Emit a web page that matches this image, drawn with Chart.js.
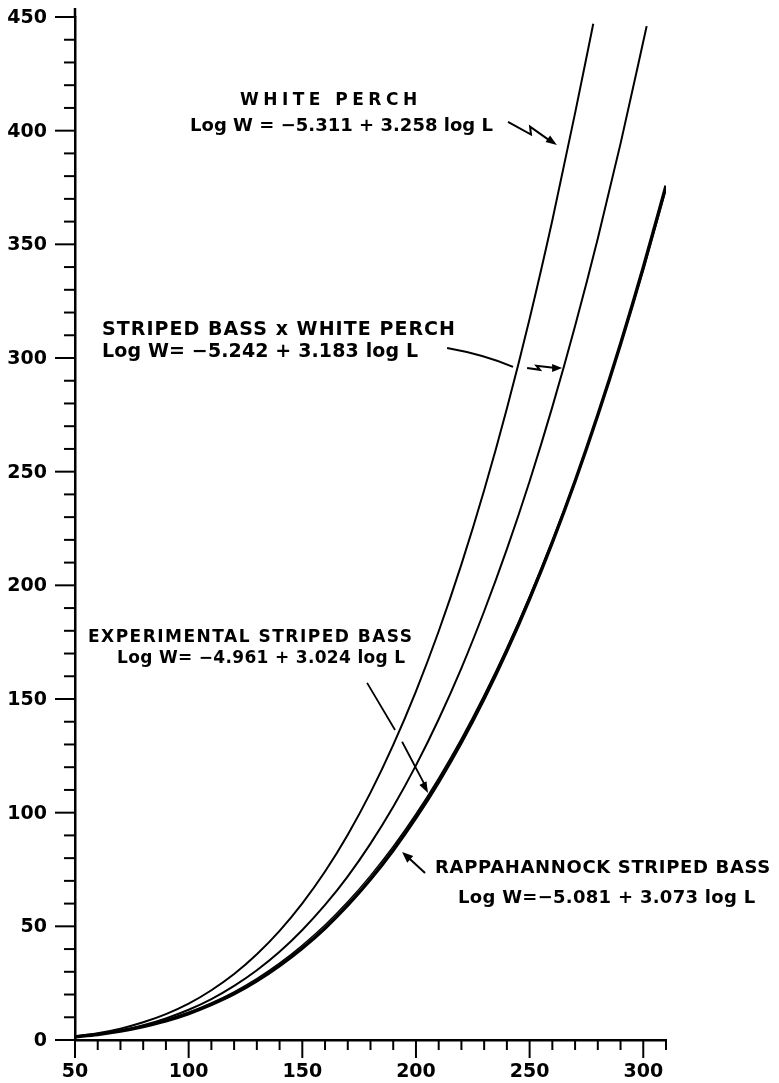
<!DOCTYPE html>
<html>
<head>
<meta charset="utf-8">
<script src="https://cdn.jsdelivr.net/npm/chart.js@4"></script>
<style>
  html, body { margin: 0; padding: 0; background: #fff; }
  canvas { display: block; }
</style>
</head>
<body>
<canvas id="chart" width="779" height="1083"></canvas>
<script>
// lengths (mm) and weights (g)
const lenWhitePerch = [50,60,70,80,90,100,110,120,130,140,150,160,170,180,190,200,210,220,230,240,250,260,270,278];
const wtWhitePerch  = [1.7,3.0,5.0,7.8,11.4,16.0,21.9,29.0,37.7,48.0,60.1,74.1,90.3,108.8,129.8,153.4,179.8,209.2,241.8,277.8,317.3,360.6,407.7,447];

const lenHybrid = [50,60,70,80,90,100,110,120,130,140,150,160,170,180,190,200,210,220,230,240,250,260,270,280,290,300,301.5];
const wtHybrid  = [1.5,2.6,4.3,6.5,9.5,13.3,18.0,23.8,30.7,38.8,48.4,59.4,72.0,86.4,102.6,120.8,141.1,163.6,188.6,215.9,245.8,278.5,314.1,352.6,394.3,439.2,446];

const lenStriped = [50,60,70,80,90,100,110,120,130,140,150,160,170,180,190,200,210,220,230,240,250,260,270,280,290,300,310];
const wtExperimental  = [1.5,2.6,4.2,6.2,8.9,12.2,16.3,21.2,27.0,33.8,41.7,50.6,60.8,72.3,85.1,99.4,115.2,132.6,151.7,172.5,195.2,219.8,246.3,274.9,305.7,338.7,374.1];
const wtRappahannock  = [1.4,2.4,3.9,5.9,8.4,11.6,15.6,20.3,26.0,32.7,40.4,49.2,59.3,70.7,83.5,97.8,113.6,131.0,150.2,171.2,194.1,218.9,245.8,274.9,306.2,339.8,375.8];

const yTickLabels = [0, 50, 100, 150, 200, 250, 300, 350, 400, 450];

const seriesNames = ["WHITE PERCH", "STRIPED BASS x WHITE PERCH", "EXPERIMENTAL STRIPED BASS", "RAPPAHANNOCK STRIPED BASS"];
const equations = [
  "Log W = \u22125.311 + 3.258 log L",
  "Log W= \u22125.242 + 3.183 log L",
  "Log W= \u22124.961 + 3.024 log L",
  "Log W=\u22125.081 + 3.073 log L"
];

const FONT = '"DejaVu Sans", sans-serif';

function pts(xs, ys) {
  return xs.map((x, i) => ({ x: x, y: ys[i] }));
}

// text stretched between two x positions
function spacedText(ctx, str, x0, x1, base, size) {
  ctx.font = "bold " + size + "px " + FONT;
  ctx.letterSpacing = "0px";
  const w = ctx.measureText(str).width;
  const sp = str.length > 1 ? (x1 - x0 - w) / (str.length - 1) : 0;
  ctx.letterSpacing = sp.toFixed(2) + "px";
  ctx.textAlign = "left";
  ctx.textBaseline = "alphabetic";
  ctx.fillText(str, x0, base);
  ctx.letterSpacing = "0px";
}

function arrowHead(ctx, fx, fy, tx, ty, len, wid) {
  const a = Math.atan2(ty - fy, tx - fx);
  ctx.beginPath();
  ctx.moveTo(tx, ty);
  ctx.lineTo(tx - len * Math.cos(a) + wid * Math.sin(a), ty - len * Math.sin(a) - wid * Math.cos(a));
  ctx.lineTo(tx - len * Math.cos(a) - wid * Math.sin(a), ty - len * Math.sin(a) + wid * Math.cos(a));
  ctx.closePath();
  ctx.fill();
}

const ticksPlugin = {
  id: "ticksPlugin",
  afterDraw(chart) {
    const { ctx, scales: { x, y } } = chart;
    ctx.save();
    ctx.strokeStyle = "#000";
    ctx.fillStyle = "#000";
    ctx.lineWidth = 2;
    const x0 = x.getPixelForValue(50);
    for (let v = 0; v <= 450; v += 10) {
      const len = v % 50 === 0 ? 20 : 11;
      const py = y.getPixelForValue(v);
      ctx.beginPath(); ctx.moveTo(x0 - len, py); ctx.lineTo(x0, py); ctx.stroke();
    }
    // y labels
    ctx.font = "bold 19px " + FONT;
    ctx.textAlign = "right";
    ctx.textBaseline = "middle";
    yTickLabels.forEach(v => ctx.fillText(String(v), x0 - 28, y.getPixelForValue(v) + 1));
    // axis runs a little past the top tick
    ctx.lineWidth = 2.5;
    ctx.beginPath(); ctx.moveTo(x0, y.getPixelForValue(450)); ctx.lineTo(x0, y.getPixelForValue(450) - 9); ctx.stroke();
    ctx.lineWidth = 2;
    const y0 = y.getPixelForValue(0);
    for (let v = 50; v <= 310; v += 10) {
      const len = v % 50 === 0 ? 18 : 10;
      const px = x.getPixelForValue(v);
      ctx.beginPath(); ctx.moveTo(px, y0); ctx.lineTo(px, y0 + len); ctx.stroke();
    }
    ctx.restore();
  }
};

const notesPlugin = {
  id: "notesPlugin",
  afterDatasetsDraw(chart) {
    const { ctx, scales: { x, y } } = chart;
    const X = v => x.getPixelForValue(v);
    const Y = v => y.getPixelForValue(v);
    ctx.save();
    ctx.fillStyle = "#000";
    ctx.strokeStyle = "#000";

    // white perch
    spacedText(ctx, seriesNames[0], X(122.6), X(200.5), Y(411.3), 17);
    spacedText(ctx, equations[0], X(100.6), X(233.9), Y(399.9), 18);
    ctx.lineWidth = 2;
    ctx.beginPath();
    ctx.moveTo(X(240.5), Y(403.9));
    ctx.lineTo(X(250.6), Y(398.3));
    ctx.lineTo(X(250.2), Y(401.8));
    ctx.lineTo(X(259.5), Y(395.2));
    ctx.stroke();
    arrowHead(ctx, X(250.2), Y(401.8), X(262.0), Y(393.7), 11, 4);

    // hybrid
    spacedText(ctx, seriesNames[1], X(61.9), X(217.2), Y(310.2), 19);
    spacedText(ctx, equations[1], X(61.9), X(200.9), Y(300.5), 19);
    ctx.beginPath();
    ctx.moveTo(X(213.7), Y(304.4));
    ctx.quadraticCurveTo(X(230), Y(301.5), X(242.7), Y(296.1));
    ctx.stroke();
    ctx.beginPath();
    ctx.moveTo(X(248.9), Y(295.6));
    ctx.lineTo(X(254.5), Y(294.8));
    ctx.lineTo(X(253.0), Y(296.6));
    ctx.lineTo(X(261.5), Y(295.6));
    ctx.stroke();
    arrowHead(ctx, X(253.0), Y(295.6), X(264.3), Y(295.6), 10, 4);

    // experimental
    spacedText(ctx, seriesNames[2], X(55.7), X(198.3), Y(175.1), 17);
    spacedText(ctx, equations[2], X(68.5), X(195.2), Y(165.9), 17);
    ctx.lineWidth = 1.8;
    ctx.beginPath();
    ctx.moveTo(X(178.5), Y(157.1));
    ctx.lineTo(X(190.8), Y(136.4));
    ctx.moveTo(X(193.9), Y(131.2));
    ctx.lineTo(X(204.0), Y(112.0));
    ctx.stroke();
    arrowHead(ctx, X(190.8), Y(136.4), X(205.3), Y(108.7), 11, 4);

    // rappahannock
    spacedText(ctx, seriesNames[3], X(208.4), X(355.8), Y(73.5), 18);
    spacedText(ctx, equations[3], X(218.5), X(349.2), Y(60.3), 18);
    ctx.lineWidth = 2;
    ctx.beginPath();
    ctx.moveTo(X(204.0), Y(73.5));
    ctx.lineTo(X(196.0), Y(80.8));
    ctx.stroke();
    arrowHead(ctx, X(204.0), Y(73.5), X(193.9), Y(82.7), 11, 4.5);

    ctx.restore();
  }
};

new Chart(document.getElementById("chart"), {
  type: "line",
  data: {
    datasets: [
      { label: seriesNames[0], data: pts(lenWhitePerch, wtWhitePerch), borderColor: "#000", borderWidth: 2 },
      { label: seriesNames[1], data: pts(lenHybrid, wtHybrid), borderColor: "#000", borderWidth: 2 },
      { label: seriesNames[2], data: pts(lenStriped, wtExperimental), borderColor: "#000", borderWidth: 1.5 },
      { label: seriesNames[3], data: pts(lenStriped, wtRappahannock), borderColor: "#000", borderWidth: 3.4 }
    ]
  },
  options: {
    responsive: false,
    animation: false,
    devicePixelRatio: 1,
    layout: { padding: { top: 17, right: 113, left: 0, bottom: 0 } },
    elements: {
      point: { radius: 0 },
      line: { tension: 0, cubicInterpolationMode: "monotone", fill: false }
    },
    plugins: { legend: { display: false }, tooltip: { enabled: false } },
    scales: {
      x: {
        type: "linear",
        min: 50,
        max: 310,
        afterFit(scale) { scale.height = 43; },
        grid: { display: false, drawTicks: false },
        border: { display: true, color: "#000", width: 2.5 },
        ticks: {
          stepSize: 50,
          includeBounds: false,
          autoSkip: false,
          maxRotation: 0,
          padding: 21,
          color: "#000",
          font: { family: FONT, size: 19, weight: "bold" },
          callback: v => (v % 50 === 0 ? v : "")
        }
      },
      y: {
        type: "linear",
        min: 0,
        max: 450,
        afterFit(scale) { scale.width = 75; },
        grid: { display: false, drawTicks: false },
        border: { display: true, color: "#000", width: 2.5 },
        ticks: { display: false, stepSize: 50 }
      }
    }
  },
  plugins: [ticksPlugin, notesPlugin]
});
</script>
</body>
</html>
